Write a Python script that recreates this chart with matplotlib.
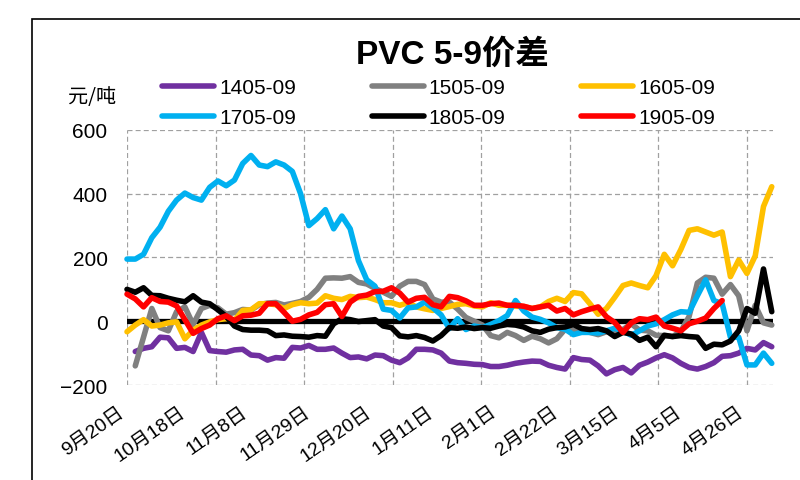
import numpy as np
import matplotlib
matplotlib.use('Agg')
import matplotlib.pyplot as plt
from matplotlib.patches import Rectangle

# every second trading day, day index 0 = 9月20日
days = np.arange(0, 157, 2)
nan = np.nan

c1405 = [nan, -95, -85, -80, -50, -52, -85, -82, -95, -35,
         -92, -95, -97, -90, -88, -106, -108, -122, -114, -116,
         -82, -84, -76, -88, -88, -84, -100, -114, -112, -118,
         -106, -108, -122, -130, -115, -88, -88, -90, -100, -125,
         -130, -132, -135, -136, -142, -142, -138, -132, -128, -125,
         -126, -138, -145, -150, -114, -120, -122, -140, -165, -152,
         -145, -162, -138, -128, -115, -105, -115, -132, -145, -150,
         -142, -130, -110, -108, -100, -85, -90, -67, -80]
c1505 = [nan, -140, -50, 40, -20, -30, 30, 45, -10, 40,
         50, 42, 22, 27, 37, 35, 52, 57, 59, 51,
         56, 62, 75, 100, 135, 136, 135, 140, 122, 117,
         103, 91, 78, 110, 125, 125, 115, 70, 60, 60,
         38, 12, 0, -12, -45, -52, -35, -45, -60, -47,
         -55, -68, -55, -25, -27, -30, -35, -42, -33, -32,
         -26, -8, -28, -30, -44, -45, -48, -32, 15, 120,
         138, 135, 85, 115, 80, -30, 50, -5, -12]
c1605 = [-33, -12, 5, -15, -12, -5, -2, -55, -28, -12,
         -2, 5, 8, 3, 34, 36, 55, 55, 52, 40,
         52, 58, 55, 57, 80, 72, 68, 78, 74, 76,
         68, 58, 58, 50, 58, 45, 39, 34, 40, 46,
         53, 55, 48, 45, 58, 50, 50, 47, 46, 40,
         45, 62, 72, 62, 90, 86, 55, 22, 40, 75,
         112, 120, 112, 105, 143, 210, 174, 225, 285, 290,
         280, 270, 280, 140, 192, 150, 205, 360, 422]
c1705 = [195, 195, 210, 262, 295, 345, 380, 402, 388, 380,
         420, 440, 425, 443, 495, 520, 490, 485, 500, 490,
         470, 400, 300, 322, 350, 290, 330, 290, 190, 130,
         110, 38, 34, 10, 42, 45, 60, 42, 20, -23,
         8, -26, -15, -20, -10, 2, 18, 65, 32, 13,
         6, -5, -20, -25, -42, -35, -35, -37, -30, -22,
         -30, -44, -30, -15, -8, 5, 20, 30, 28, 80,
         130, 65, 55, -50, -50, -137, -137, -100, -132]
c1805 = [100, 91, 105, 81, 80, 72, 66, 61, 80, 60,
         55, 36, 15, -15, -26, -28, -28, -30, -45, -43,
         -47, -48, -50, -45, -47, -8, 8, 5, -1, 2,
         5, -15, -20, -46, -49, -45, -51, -62, -45, -20,
         -22, -18, -23, -20, -22, -15, -10, -12, -18, -30,
         -35, -25, -20, -18, -10, -23, -26, -23, -30, -48,
         -35, -40, -60, -50, -80, -44, -48, -45, -48, -50,
         -85, -72, -74, -62, -30, 40, 25, 164, 30]
c1905 = [85, 70, 45, 74, 62, 60, 48, 5, -38, -23,
         -12, 8, 17, 2, 17, 19, 25, 55, 55, 28,
         0, 6, 20, 28, 52, 55, 15, 60, 78, 82,
         93, 94, 105, 88, 60, 72, 75, 52, 45, 78,
         74, 64, 50, 50, 55, 57, 50, 50, 47, 40,
         45, 50, 32, 40, 20, 30, 38, 45, 14, -4,
         -35, -5, 8, 5, 13, -15, -22, -30, -8, 0,
         10, 40, 65, nan, nan, nan, nan, nan, nan]

names = ['1405-09', '1505-09', '1605-09', '1705-09', '1805-09', '1905-09']
colors = ['#7030A0', '#808080', '#FFC000', '#00B0F0', '#000000', '#FF0000']
series = [c1405, c1505, c1605, c1705, c1805, c1905]

tick_days = np.arange(0, 151, 15)
tick_labels = ['9月20日', '10月18日', '11月8日', '11月29日', '12月20日', '1月11日',
               '2月1日', '2月22日', '3月15日', '4月5日', '4月26日']

plt.rcParams['font.family'] = ['Liberation Sans', 'Noto Sans CJK SC', 'DejaVu Sans']

fig = plt.figure(figsize=(8, 4.81), dpi=100)
ax = fig.add_axes([0.15875, 0.1975, 0.8075, 0.5302])

lines = []
for vals, name, col in zip(series, names, colors):
    ln, = ax.plot(days, vals, color=col, lw=4, label=name, clip_on=False,
                  solid_capstyle='round', solid_joinstyle='round', zorder=3)
    lines.append(ln)

# thick category axis at zero
ax.axhline(0, color='black', lw=3.8, zorder=2)

ax.set_xlim(0, 156.3)
ax.set_ylim(-200, 600)
ax.set_yticks([-200, 0, 200, 400, 600])
ax.set_xticks(tick_days)
ax.set_xticklabels(tick_labels, rotation=35, ha='right', va='top', fontsize=14)
ax.tick_params(axis='x', length=0, pad=13)
ax.tick_params(axis='y', length=0, pad=14, labelsize=15)
for s in ax.spines.values():
    s.set_visible(False)

gkw = dict(color='#A0A0A0', lw=0.9, dashes=(4, 2.5), zorder=1)
for y in [-200, 200, 400, 600]:
    ax.axhline(y, **gkw)
for x in np.linspace(0, 150, 8):
    ax.axvline(x, **gkw)

fig.text(0.566, 0.886, 'PVC 5-9价差', ha='center', va='center',
         fontsize=24, fontweight='bold')
fig.text(0.115, 0.797, '元/吨', ha='center', va='center', fontsize=14.5,
         family=['Noto Sans CJK SC'])

order = [0, 3, 1, 4, 2, 5]
fig.legend([lines[i] for i in order], [names[i] for i in order],
           loc='upper left', bbox_to_anchor=(0.203, 0.836), ncol=3,
           frameon=False, fontsize=15, handlelength=2.5, handletextpad=0.25,
           columnspacing=3.6, labelspacing=0.55, borderpad=0, borderaxespad=0)

fig.add_artist(Rectangle((0.04, -0.05), 1.0, 1.0075, transform=fig.transFigure,
                         fill=False, edgecolor='black', lw=1.2))

fig.savefig('out.png', dpi=100)
